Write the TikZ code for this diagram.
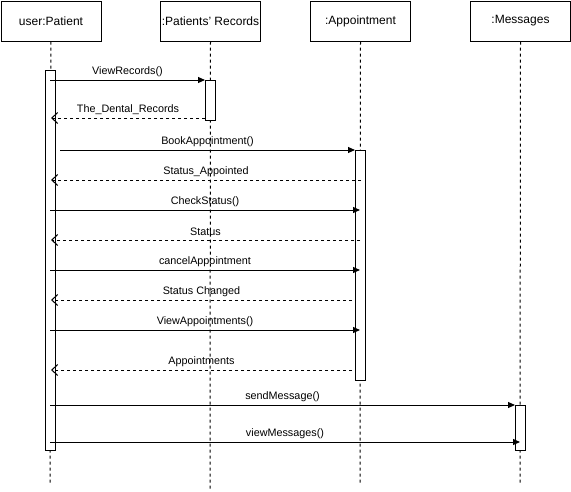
\documentclass[tikz,border=0pt]{standalone}
\usepackage{fontspec}
\setmainfont{Liberation Sans}
\usetikzlibrary{arrows.meta}
\begin{document}
\begin{tikzpicture}[x=1pt,y=-1pt,
  obj/.style={draw,line width=1pt,fill=white,minimum width=100pt,minimum height=40pt,inner sep=0pt,font=\fontsize{12}{14}\selectfont,anchor=north west},
  life/.style={line width=1pt,dash pattern=on 3pt off 3pt},
  act/.style={draw,line width=1pt,fill=white},
  call/.style={line width=1pt,-{Triangle[length=7pt,width=6pt]}},
  ret/.style={line width=1pt,dash pattern=on 3pt off 3pt,-{Straight Barb[length=6pt,width=11pt,line width=1pt]}},
  lbl/.style={midway,yshift=8pt,font=\fontsize{10.8}{13}\selectfont,inner sep=0pt}]
\useasboundingbox (0,0) rectangle (571,491);
% object boxes
\node[obj] (pat) at (0.5,0.5) {user:Patient};
\node[obj] (rec) at (160,0.5) {:Patients' Records};
\node[obj] (app) at (310,0.5) {:Appointment};
\node[obj] (msg) at (470,0.5) {:Messages};
% lifelines
\coordinate (patE) at (50,484);
\coordinate (recE) at (210,490);
\coordinate (appE) at (360,484);
\coordinate (msgE) at (520,484);
\draw[life] (pat.south) -- (patE);
\draw[life] (rec.south) -- (recE);
\draw[life] (app.south) -- (appE);
\draw[life] (msg.south) -- (msgE);
% activations
\draw[act] (45,70) rectangle (55,450);
\draw[act] (205,80) rectangle (215,120);
\draw[act] (355,150) rectangle (365,380);
\draw[act] (515,405) rectangle (525,450);
% message endpoints
\coordinate (a1) at (50,80);   \coordinate (b1) at (205,80);
\coordinate (a2) at (205,118); \coordinate (b2) at (51,118);
\coordinate (a3) at (60,150);  \coordinate (b3) at (355,150);
\coordinate (a4) at (361,180); \coordinate (b4) at (51,180);
\coordinate (a5) at (50,210);  \coordinate (b5) at (360,210);
\coordinate (a6) at (360,240); \coordinate (b6) at (51,240);
\coordinate (a7) at (50,270);  \coordinate (b7) at (360,270);
\coordinate (a8) at (352,300); \coordinate (b8) at (51,300);
\coordinate (a9) at (50,330);  \coordinate (b9) at (360,330);
\coordinate (a10) at (352,370); \coordinate (b10) at (51,370);
\coordinate (a11) at (50,405); \coordinate (b11) at (515,405);
\coordinate (a12) at (50,442); \coordinate (b12) at (520,442);
% messages
\draw[call] (a1) -- (b1) node[lbl] {ViewRecords()};
\draw[ret] (a2) -- (b2) node[lbl] {The\_Dental\_Records};
\draw[call] (a3) -- (b3) node[lbl] {BookAppointment()};
\draw[ret] (a4) -- (b4) node[lbl] {Status\_Appointed};
\draw[call] (a5) -- (b5) node[lbl] {CheckStatus()};
\draw[ret] (a6) -- (b6) node[lbl] {Status};
\draw[call] (a7) -- (b7) node[lbl] {cancelAppointment};
\draw[ret] (a8) -- (b8) node[lbl] {Status Changed};
\draw[call] (a9) -- (b9) node[lbl] {ViewAppointments()};
\draw[ret] (a10) -- (b10) node[lbl] {Appointments};
\draw[call] (a11) -- (b11) node[lbl] {sendMessage()};
\draw[call] (a12) -- (b12) node[lbl] {viewMessages()};
\end{tikzpicture}
\end{document}
